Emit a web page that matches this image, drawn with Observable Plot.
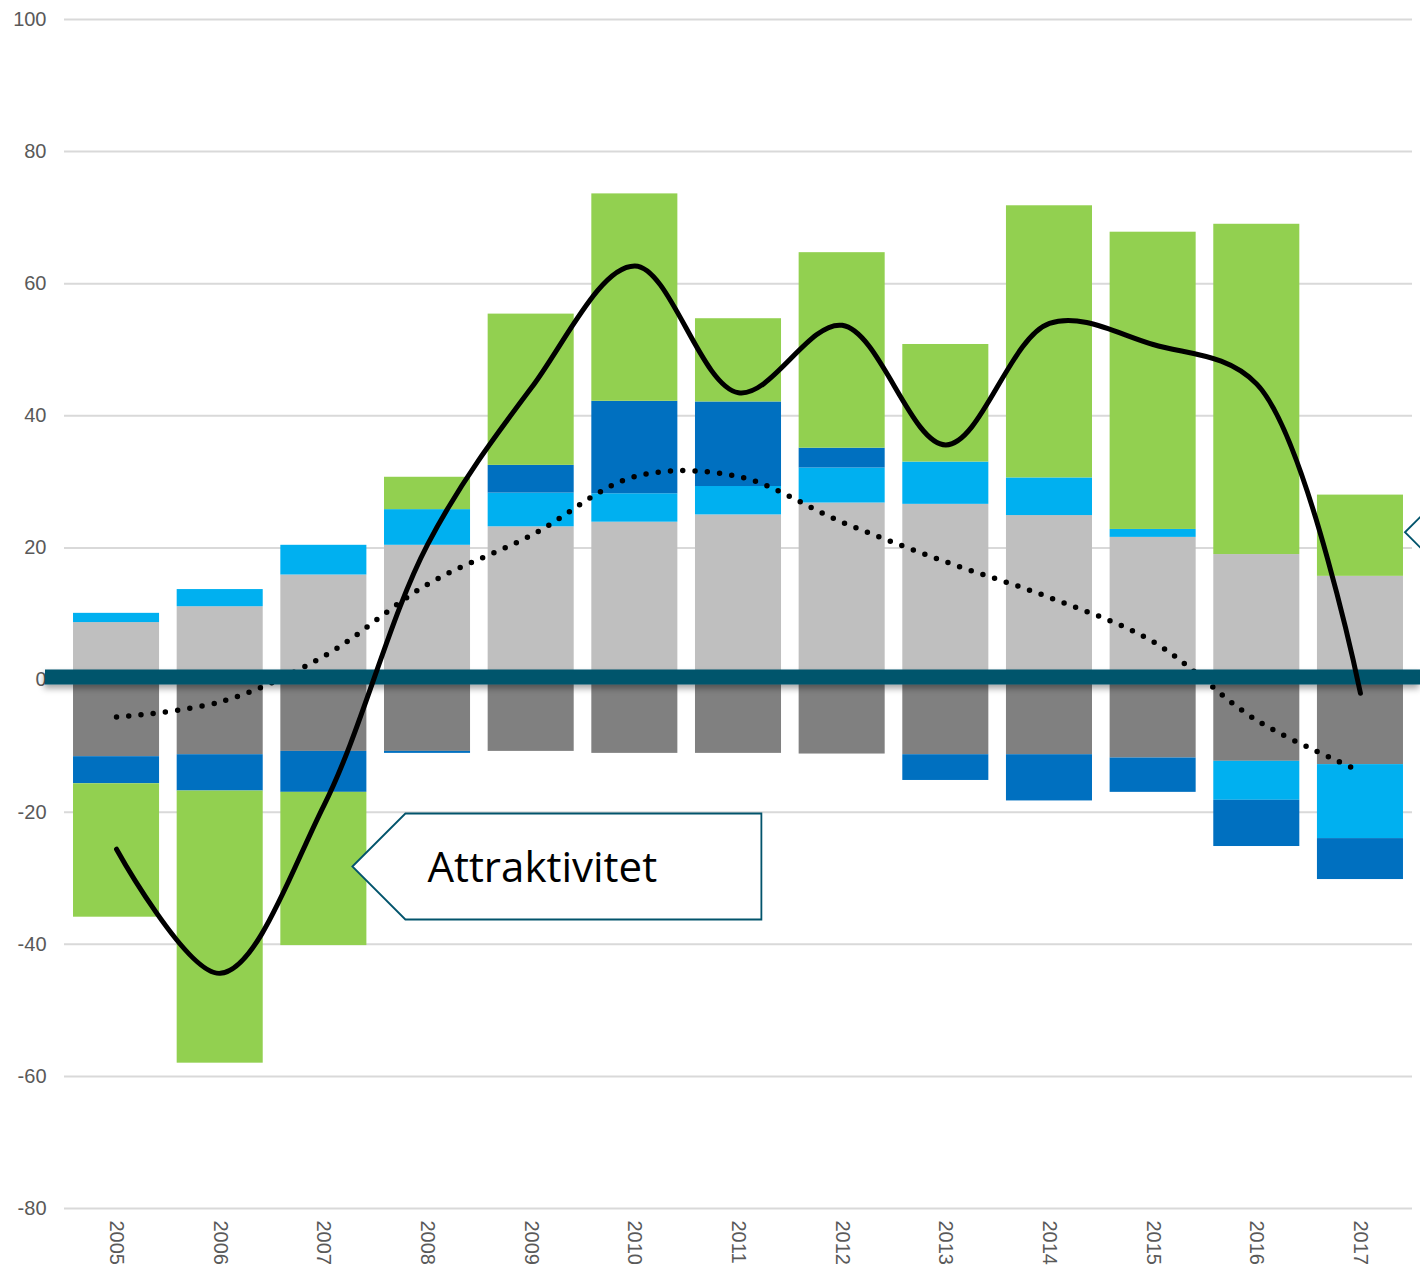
<!DOCTYPE html>
<html>
<head>
<meta charset="utf-8">
<script src="https://cdn.jsdelivr.net/npm/d3@7"></script>
<script src="https://cdn.jsdelivr.net/npm/@observablehq/plot@0.6"></script>
<style>
  html, body { margin: 0; padding: 0; background: #ffffff; }
  #chart svg { display: block; }
</style>
</head>
<body>
<div id="chart"></div>
<script>
// ---- Data ----
const years = ["2005","2006","2007","2008","2009","2010","2011","2012","2013","2014","2015","2016","2017"];
const seriesNames = ["Fødte", "Døde", "Komponent lys blå", "Komponent mørk blå", "Komponent grønn"];
const fodte     = [8.7, 11.1, 15.9, 20.4, 23.2, 23.9, 25.0, 26.8, 26.6, 24.9, 21.6, 19.0, 15.7];
const dode      = [-11.6, -11.3, -10.8, -10.8, -10.8, -11.1, -11.1, -11.2, -11.3, -11.3, -11.8, -12.3, -12.8];
const lysBla    = [1.4, 2.6, 4.5, 5.4, 5.1, 4.3, 4.3, 5.3, 6.4, 5.7, 1.2, -5.9, -11.2];
const morkBla   = [-4.1, -5.5, -6.2, -0.3, 4.2, 14.0, 12.8, 3.0, -3.9, -7.0, -5.2, -7.0, -6.2];
const gronn     = [-20.2, -41.2, -23.2, 4.9, 22.9, 31.4, 12.6, 29.6, 17.8, 41.2, 45.0, 50.0, 12.3];
const total     = [-25.6, -44.4, -19.0, 20.5, 44.2, 62.7, 43.5, 53.7, 35.6, 54.0, 50.8, 44.8, -2.0];
const trend     = [-5.6, -3.3, 3.6, 14.5, 21.9, 30.8, 30.8, 23.9, 17.9, 12.5, 5.8, -6.1, -13.8];
const yTicks    = [-80, -60, -40, -20, 0, 20, 40, 60, 80, 100];
const seriesColors = ["#BFBFBF", "#808080", "#00B0F0", "#0070C0", "#92D050"];
const ZERO_COLOR = "#02546C";

// callouts: label, year of anchor bar, y value of arrow tip
const calloutLabels = ["Attraktivitet", ""];
const calloutYears  = ["2007", "2017"];
const calloutValues = [-28.3, 22.3];

// ---- Build tables ----
const seriesArrays = [fodte, dode, lysBla, morkBla, gronn];
const bars = [];
seriesNames.forEach((s, si) => {
  years.forEach((yr, i) => bars.push({year: yr, series: s, value: seriesArrays[si][i]}));
});
const totalRows = years.map((yr, i) => ({year: yr, value: total[i]}));
const trendRows = years.map((yr, i) => ({year: yr, value: trend[i]}));

const fmt = d => (d < 0 ? "-" + Math.abs(d) : String(d));

const chart = Plot.plot({
  width: 1420,
  height: 1273,
  marginLeft: 64,
  marginRight: 8,
  marginTop: 19,
  marginBottom: 65,
  style: {fontFamily: "'Liberation Sans', Arial, sans-serif", fontSize: "20px", color: "#595959", background: "#ffffff", overflow: "visible"},
  x: {domain: years, paddingInner: 0.17, paddingOuter: 0.087, round: false, label: null},
  y: {domain: [-80, 100], label: null},
  color: {domain: seriesNames, range: seriesColors},
  marks: [
    Plot.gridY(yTicks, {stroke: "#D9D9D9", strokeOpacity: 1, strokeWidth: 2}),
    Plot.axisY(yTicks, {tickSize: 0, tickPadding: 18, tickFormat: fmt, fill: "#595959", fontSize: 20, label: null}),
    Plot.axisX({tickSize: 0, tickPadding: 12, tickRotate: 90, fill: "#595959", fontSize: 20, label: null}),
    Plot.barY(bars, {x: "year", y: "value", fill: "series"}),
    Plot.line(trendRows, {x: "year", y: "value", stroke: "#000", strokeWidth: 5.5, strokeDasharray: "0 12.3", strokeLinecap: "round", curve: "catmull-rom"}),
    Plot.ruleY([0], {stroke: ZERO_COLOR, strokeWidth: 15, dy: -3, insetLeft: -19, insetRight: -8}),
    Plot.line(totalRows, {x: "year", y: "value", stroke: "#000", strokeWidth: 5, strokeLinecap: "round", strokeLinejoin: "round", curve: "catmull-rom"})
  ]
});

document.getElementById("chart").appendChild(chart);

// ---- Post-processing: shadow on zero line, callouts ----
const svg = d3.select(chart);
const defs = svg.insert("defs", ":first-child");
const f = defs.append("filter").attr("id", "zshadow")
  .attr("filterUnits", "userSpaceOnUse")
  .attr("x", 0).attr("y", 0).attr("width", 1420).attr("height", 1273);
f.append("feDropShadow").attr("dx", -1).attr("dy", 4).attr("stdDeviation", 3)
  .attr("flood-color", "#000").attr("flood-opacity", 0.35);
chart.querySelectorAll("g").forEach(g => {
  if (g.getAttribute("stroke") === ZERO_COLOR) g.setAttribute("filter", "url(#zshadow)");
});

const xs = chart.scale("x"), ys = chart.scale("y");
const bw = xs.bandwidth;
const xApply = v => xs.apply(v);
const yApply = v => ys.apply(v);

const cg = svg.append("g");
calloutLabels.forEach((label, i) => {
  const yr = calloutYears[i];
  const tipX = i === 0 ? xApply(yr) + bw - 14 : xApply(yr) + bw + 2;
  const tipY = yApply(calloutValues[i]);
  const w = 409, h = 53;
  const pts = [[tipX, tipY], [tipX + h, tipY - h], [tipX + w, tipY - h], [tipX + w, tipY + h], [tipX + h, tipY + h]];
  cg.append("path")
    .attr("d", "M" + pts.map(p => p.join(",")).join("L") + "Z")
    .attr("fill", "#ffffff")
    .attr("stroke", ZERO_COLOR)
    .attr("stroke-width", 1.8);
  if (label) {
    cg.append("text")
      .attr("x", tipX + 75)
      .attr("y", tipY + 16)
      .attr("text-anchor", "start")
      .attr("fill", "#000")
      .attr("font-family", "'Open Sans', 'Noto Sans', sans-serif")
      .attr("font-size", 42)
      .text(label);
  }
});
</script>
</body>
</html>
